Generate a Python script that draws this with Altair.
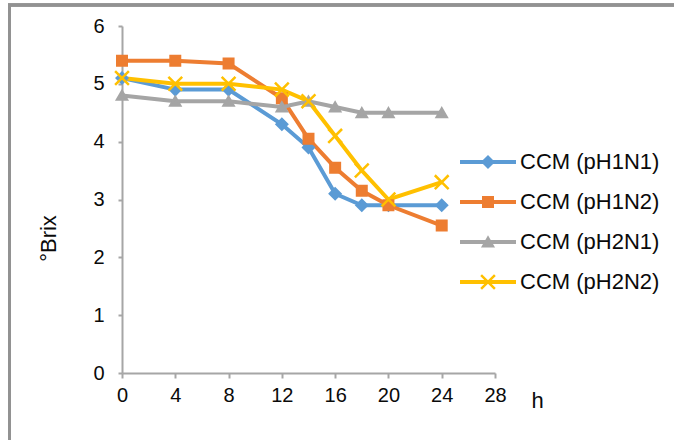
import altair as alt
import pandas as pd

# Sampling times (h) and °Brix readings for each culture condition
hours = [0, 4, 8, 12, 14, 16, 18, 20, 24]
series_names = ["CCM (pH1N1)", "CCM (pH1N2)", "CCM (pH2N1)", "CCM (pH2N2)"]
brix_ph1n1 = [5.1, 4.9, 4.9, 4.3, 3.9, 3.1, 2.9, 2.9, 2.9]
brix_ph1n2 = [5.4, 5.4, 5.35, 4.75, 4.05, 3.55, 3.15, 2.9, 2.55]
brix_ph2n1 = [4.8, 4.7, 4.7, 4.6, 4.7, 4.6, 4.5, 4.5, 4.5]
brix_ph2n2 = [5.1, 5.0, 5.0, 4.9, 4.7, 4.1, 3.5, 3.0, 3.3]
x_ticks = [0, 4, 8, 12, 16, 20, 24, 28]
y_ticks = [0, 1, 2, 3, 4, 5, 6]

colors = ["#5b9bd5", "#ed7d31", "#a5a5a5", "#ffc000"]
cross = "M-1,-1L1,1M-1,1L1,-1"
shapes = ["diamond", "square", "triangle-up", cross]
marker_sizes = [110, 90, 95, 190]

rows = []
for name, vals in zip(series_names, [brix_ph1n1, brix_ph1n2, brix_ph2n1, brix_ph2n2]):
    for t, v in zip(hours, vals):
        rows.append({"series": name, "t": t, "brix": v})
df = pd.DataFrame(rows)
legend_df = pd.DataFrame({"series": series_names})

FONT = "Liberation Sans"
AXIS_GRAY = "#a6a6a6"
TEXT = "#0a0a0a"

color_scale = alt.Scale(domain=series_names, range=colors)
shape_scale = alt.Scale(domain=series_names, range=shapes)
size_scale = alt.Scale(type="ordinal", domain=series_names, range=marker_sizes)

x_enc = alt.X(
    "t:Q",
    scale=alt.Scale(domain=[0, 28], nice=False, zero=True),
    axis=alt.Axis(
        values=x_ticks, title="h", grid=False, format="d",
        domainColor=AXIS_GRAY, domainWidth=2, tickColor=AXIS_GRAY, tickWidth=2,
        tickSize=5, labelFontSize=20, labelColor=TEXT, labelPadding=7,
        labelFont=FONT, labelFlush=False,
        titleFont=FONT, titleFontSize=22, titleFontWeight="normal", titleColor=TEXT,
        titleX=409, titleY=34, titleAlign="left", titleBaseline="alphabetic",
    ),
)
y_enc = alt.Y(
    "brix:Q",
    scale=alt.Scale(domain=[0, 6], nice=False),
    axis=alt.Axis(
        values=y_ticks, title="°Brix", grid=False, format="d",
        domainColor=AXIS_GRAY, domainWidth=2, tickColor=AXIS_GRAY, tickWidth=2,
        tickSize=4, labelFontSize=20, labelColor=TEXT, labelPadding=14,
        labelFont=FONT, labelFlush=False,
        titleFont=FONT, titleFontSize=22, titleFontWeight="normal", titleColor=TEXT,
        titleAngle=270, titleX=-74, titleY=212, titleAlign="center", titleBaseline="middle",
    ),
)

base = alt.Chart(df)
lines = base.mark_line(strokeWidth=4).encode(
    x=x_enc, y=y_enc,
    color=alt.Color("series:N", scale=color_scale, legend=None),
    detail="series:N",
)
points = base.mark_point(filled=True, strokeWidth=2.5, opacity=1).encode(
    x="t:Q", y="brix:Q",
    color=alt.Color("series:N", scale=color_scale, legend=None),
    stroke=alt.Stroke("series:N", scale=color_scale, legend=None),
    shape=alt.Shape("series:N", scale=shape_scale, legend=None),
    size=alt.Size("series:N", scale=size_scale, legend=None),
)

# Outer frame around the figure
frame_color = "#929292"
frame_left = alt.Chart(legend_df).mark_rule(color=frame_color, strokeWidth=3).encode(
    x=alt.value(-112.5), y=alt.value(-21), y2=alt.value(420)
)
frame_top = alt.Chart(legend_df).mark_rule(color=frame_color, strokeWidth=3).encode(
    x=alt.value(-114), x2=alt.value(560), y=alt.value(-21)
)

plot = alt.layer(frame_left, frame_top, lines, points)

# Legend entries: line swatch with the series marker, then the label
leg_y = alt.Y(
    "series:N",
    scale=alt.Scale(type="point", domain=series_names, range=[136, 256], padding=0),
    axis=None,
)
leg_base = alt.Chart(legend_df)
leg_line = leg_base.mark_rule(strokeWidth=4).encode(
    x=alt.value(338), x2=alt.value(394), y=leg_y,
    color=alt.Color("series:N", scale=color_scale, legend=None),
)
leg_pt = leg_base.mark_point(filled=True, strokeWidth=2.5, opacity=1).encode(
    x=alt.value(366), y=leg_y,
    color=alt.Color("series:N", scale=color_scale, legend=None),
    stroke=alt.Stroke("series:N", scale=color_scale, legend=None),
    shape=alt.Shape("series:N", scale=shape_scale, legend=None),
    size=alt.Size("series:N", scale=size_scale, legend=None),
)
leg_text = leg_base.mark_text(
    align="left", baseline="middle", font=FONT, fontSize=22, color=TEXT
).encode(x=alt.value(398), y=leg_y, text="series:N")

legend = alt.layer(leg_line, leg_pt, leg_text)

chart = (
    alt.layer(plot, legend)
    .resolve_scale(y="independent")
    .properties(
        width=373, height=347,
        autosize=alt.AutoSizeParams(type="none"),
        padding={"left": 122, "top": 26, "right": 179, "bottom": 67},
        background="white",
    )
    .configure_view(stroke=None)
)

chart.save("out.html", embed_options={"renderer": "svg", "actions": False})
